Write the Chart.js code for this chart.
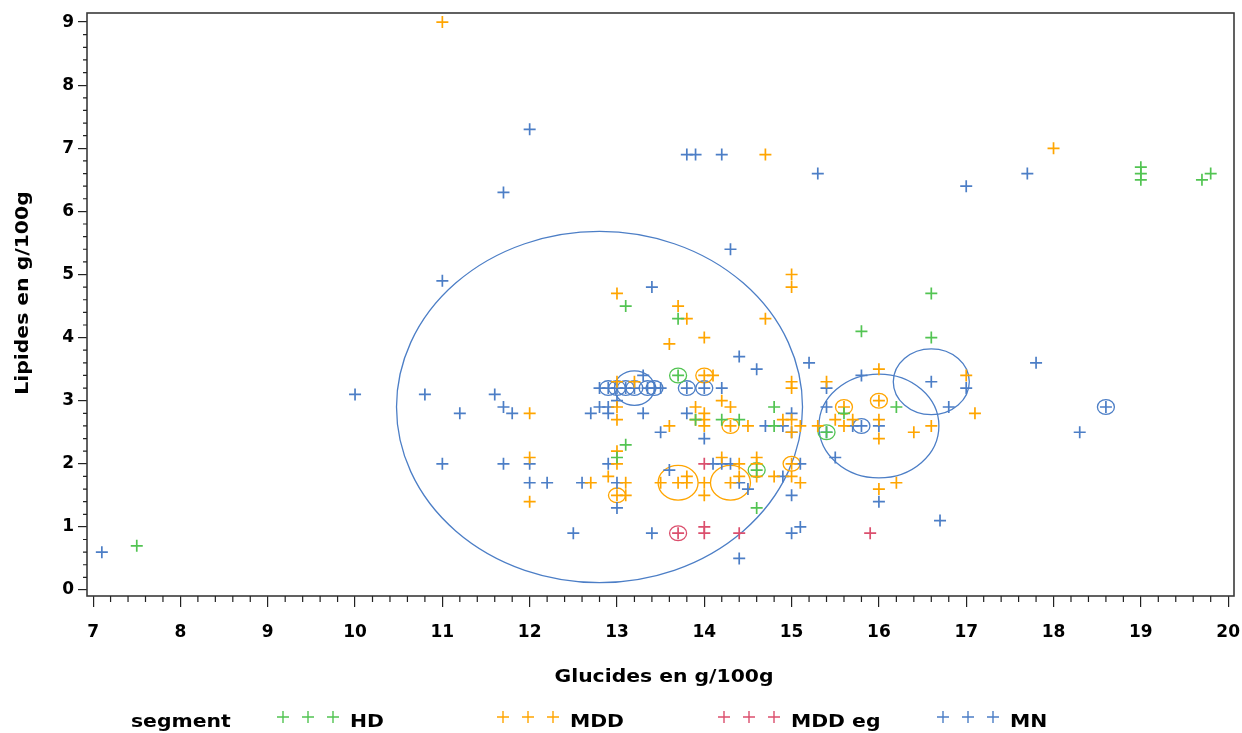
<!DOCTYPE html>
<html><head><meta charset="utf-8">
<script src="https://cdn.jsdelivr.net/npm/chart.js@4.4.0/dist/chart.umd.min.js"></script>
<style>html,body{margin:0;padding:0;background:#fff;}#wrap{width:1242px;height:733px;}</style>
</head><body><div id="wrap"><canvas id="c" width="1242" height="733"></canvas></div>
<script>
// ---- data ----
const xTicks = [7,8,9,10,11,12,13,14,15,16,17,18,19,20];
const yTicks = [0,1,2,3,4,5,6,7,8,9];
const seriesNames = ['HD','MDD','MDD eg','MN'];

const hdX = [7.5,13.1,13.7,13.7,13.9,14.2,14.4,13.1,13.0,14.6,14.6,14.8,14.8,15.4,15.6,15.8,16.2,16.6,16.6,19.0,19.0,19.0,19.7,19.8];
const hdY = [0.7,4.5,4.3,3.4,2.7,2.7,2.7,2.3,2.1,1.9,1.3,2.9,2.6,2.5,2.8,4.1,2.9,4.7,4.0,6.7,6.6,6.5,6.5,6.6];

const mddX = [11.0,12.0,12.0,12.0,12.7,12.9,13.0,13.0,13.2,13.0,13.0,13.0,13.0,13.0,13.1,13.1,13.5,13.6,13.6,13.7,13.8,13.7,13.8,13.8,13.9,13.9,14.0,14.0,14.0,14.0,14.0,14.1,14.0,14.0,14.2,14.3,14.2,14.3,14.3,14.4,14.4,14.5,14.6,14.6,14.6,14.7,14.7,14.8,14.9,15.0,15.0,15.0,15.0,15.0,15.0,15.0,15.0,15.1,15.1,15.3,15.4,15.5,15.6,15.6,15.7,16.0,16.0,16.0,16.0,16.0,16.2,16.4,16.6,17.0,17.1,18.0];
const mddY = [9.0,2.8,2.1,1.4,1.7,1.8,4.7,3.3,3.3,2.9,2.7,2.2,2.0,1.5,1.7,1.5,1.7,2.6,3.9,4.5,4.3,1.7,1.8,1.7,2.9,2.7,2.8,2.7,2.6,4.0,3.4,3.4,1.7,1.5,3.0,2.9,2.1,2.6,1.7,1.8,2.0,2.6,2.1,2.0,1.8,4.3,6.9,1.8,2.7,5.0,4.8,3.3,3.2,2.7,2.5,2.0,1.8,2.6,1.7,2.6,3.3,2.7,2.9,2.6,2.7,3.5,3.0,2.7,2.4,1.6,1.7,2.5,2.6,3.4,2.8,7.0];

const mddegX = [13.7,14.0,14.0,14.0,14.4,15.9];
const mddegY = [0.9,2.0,1.0,0.9,0.9,0.9];

const mnX = [7.1,10.0,10.8,11.0,11.0,11.2,11.6,11.7,11.8,11.7,12.0,11.7,12.0,12.0,12.2,12.5,12.6,12.7,12.8,12.8,12.9,12.9,12.9,12.9,13.0,13.1,13.2,13.35,13.43,13.5,13.0,13.0,13.0,13.3,13.3,13.4,13.4,13.5,13.6,13.8,14.0,14.2,13.8,14.0,13.8,13.9,14.2,14.1,14.2,14.3,14.3,14.4,14.4,14.5,14.4,14.6,14.7,14.9,14.9,15.0,15.0,15.0,15.0,15.1,15.1,15.2,15.3,15.4,15.4,15.4,15.5,15.7,15.8,15.8,16.0,16.0,16.6,16.7,16.8,17.0,17.0,17.7,17.8,18.3,18.6];
const mnY = [0.6,3.1,3.1,4.9,2.0,2.8,3.1,2.9,2.8,6.3,7.3,2.0,2.0,1.7,1.7,0.9,1.7,2.8,2.9,3.2,2.9,2.8,2.0,3.2,3.2,3.2,3.2,3.2,3.2,3.2,3.0,1.7,1.3,3.4,2.8,4.8,0.9,2.5,1.9,3.2,3.2,3.2,2.8,2.4,6.9,6.9,6.9,2.0,2.0,2.0,5.4,3.7,1.7,1.6,0.5,3.5,2.6,2.6,1.8,2.8,2.5,1.5,0.9,1.0,2.0,3.6,6.6,3.2,2.9,2.5,2.1,2.6,2.6,3.4,2.6,1.4,3.3,1.1,2.9,3.2,6.4,6.6,3.6,2.5,2.9];

// bubble rings (size = radius value)
const hdBubX = [13.7,14.6,15.4];
const hdBubY = [3.4,1.9,2.5];
const hdBubS = [8.5,8.5,8.5];
const mddBubX = [13.7,14.3,14.0,14.3,13.0,15.0,15.6,16.0];
const mddBubY = [1.7,1.7,3.4,2.6,1.5,2.0,2.9,3.0];
const mddBubS = [20,20,8.5,8.5,8.5,8.5,8.5,8.5];
const mddegBubX = [13.7];
const mddegBubY = [0.9];
const mddegBubS = [8.5];
const mnBubX = [12.8,13.2,16.0,16.6,12.9,13.0,13.1,13.2,13.35,13.43,13.8,14.0,15.8,18.6];
const mnBubY = [2.9,3.2,2.6,3.3,3.2,3.2,3.2,3.2,3.2,3.2,3.2,3.2,2.6,2.9];
const mnBubS = [203,20,60,38,8.5,8.5,8.5,8.5,8.5,8.5,8.5,8.5,8.5,8.5];

// ---- styles ----
const COL = {HD:'#52c452', MDD:'#ffa500', 'MDD eg':'#db4f6d', MN:'#4c7ec6'};
const FONT = 'DejaVu Sans';
const TXT_SX = 1.13;

const pts = (xs, ys) => xs.map((x,i)=>({x, y: ys[i]}));
const bub = (xs, ys, ss) => xs.map((x,i)=>({x, y: ys[i], r: ss[i]}));

function crossDs(label, xs, ys){
  return {type:'scatter', label, data: pts(xs,ys), pointStyle:'cross', pointRadius:6,
    borderColor: COL[label], backgroundColor: COL[label], borderWidth:1.7, showLine:false};
}
function ringDs(label, xs, ys, ss){
  return {type:'bubble', label: label+' ring', ring:true, data: bub(xs,ys,ss),
    borderColor: COL[label], backgroundColor:'rgba(0,0,0,0)', borderWidth:1.3};
}

const ringPlugin = {
  id:'rings',
  beforeDatasetDraw(chart, args){
    const ds = chart.data.datasets[args.index];
    if(!ds.ring) return;
    const ctx = chart.ctx;
    const a = chart.chartArea;
    ctx.save();
    ctx.beginPath(); ctx.rect(a.left, a.top, a.right-a.left, a.bottom-a.top); ctx.clip();
    ctx.strokeStyle = ds.borderColor; ctx.lineWidth = ds.borderWidth;
    args.meta.data.forEach(el=>{
      const r = el.options.radius;
      ctx.beginPath();
      ctx.ellipse(el.x, el.y, r, r*0.865, 0, 0, Math.PI*2);
      ctx.stroke();
    });
    ctx.restore();
    return false;
  }
};

function drawText(ctx, text, x, y, align, rot){
  ctx.save();
  ctx.translate(x, y);
  if(rot) ctx.rotate(rot);
  ctx.scale(TXT_SX, 1);
  ctx.font = 'bold 18px "'+FONT+'"';
  ctx.fillStyle = '#000';
  ctx.textBaseline = 'alphabetic';
  ctx.textAlign = align;
  ctx.fillText(text, 0, 0);
  ctx.restore();
}

const framePlugin = {
  id:'frame',
  afterDraw(chart){
    const ctx = chart.ctx, a = chart.chartArea;
    const xs = chart.scales.x, ys = chart.scales.y;
    ctx.save();
    ctx.strokeStyle = '#3a3a3a'; ctx.lineWidth = 1.6;
    ctx.strokeRect(a.left, a.top, a.right-a.left, a.bottom-a.top);
    ctx.strokeStyle = '#222'; ctx.lineWidth = 1.2;
    ctx.beginPath();
    for(let i=35;i<=100;i++){
      if(i%5===0) continue;
      const px = xs.getPixelForValue(i/5);
      if(px < a.left || px > a.right) continue;
      ctx.moveTo(px, a.bottom); ctx.lineTo(px, a.bottom+6);
    }
    for(let i=0;i<=45;i++){
      if(i%5===0) continue;
      const py = ys.getPixelForValue(i/5);
      if(py < a.top || py > a.bottom) continue;
      ctx.moveTo(a.left, py); ctx.lineTo(a.left-4, py);
    }
    ctx.stroke();
    ctx.restore();
    drawText(ctx, 'Glucides en g/100g', 664, 682, 'center', 0);
    drawText(ctx, 'Lipides en g/100g', 28, 293, 'center', -Math.PI/2);
    drawText(ctx, 'segment', 131, 727, 'left', 0);
    const starts = [283, 503, 724, 943];
    seriesNames.forEach((n,k)=>{
      const c = COL[n];
      ctx.save();
      ctx.strokeStyle = c; ctx.lineWidth = 1.4;
      ctx.beginPath();
      for(let j=0;j<3;j++){
        const cx = starts[k] + j*25, cy = 717;
        ctx.moveTo(cx-6, cy); ctx.lineTo(cx+6, cy);
        ctx.moveTo(cx, cy-6); ctx.lineTo(cx, cy+6);
      }
      ctx.stroke();
      ctx.restore();
      drawText(ctx, n, starts[k]+67, 727, 'left', 0);
    });
  }
};

new Chart(document.getElementById('c'), {
  type:'scatter',
  data:{datasets:[
    crossDs('HD', hdX, hdY),
    crossDs('MDD eg', mddegX, mddegY),
    crossDs('MDD', mddX, mddY),
    crossDs('MN', mnX, mnY),
    ringDs('HD', hdBubX, hdBubY, hdBubS),
    ringDs('MDD eg', mddegBubX, mddegBubY, mddegBubS),
    ringDs('MDD', mddBubX, mddBubY, mddBubS),
    ringDs('MN', mnBubX, mnBubY, mnBubS)
  ]},
  options:{
    responsive:false, animation:false, devicePixelRatio:1,
    layout:{autoPadding:false, padding:{left:0,right:8,top:13,bottom:0}},
    plugins:{legend:{display:false}, tooltip:{enabled:false}},
    scales:{
      x:{type:'linear', min:6.93, max:20.067,
        afterBuildTicks:s=>{ s.ticks = xTicks.map(v=>({value:v})); },
        afterFit:s=>{ s.height = 137; s.paddingLeft = 0; s.paddingRight = 0; },
        grid:{display:true, drawOnChartArea:false, drawTicks:true, tickLength:11, color:'#222', lineWidth:1.2},
        border:{display:false},
        ticks:{font:{family:FONT, weight:'bold', size:17}, color:'#000', padding:15, maxRotation:0, autoSkip:false}
      },
      y:{type:'linear', min:-0.095, max:9.144,
        afterBuildTicks:s=>{ s.ticks = yTicks.map(v=>({value:v})); },
        afterFit:s=>{ s.width = 87; s.paddingTop = 0; s.paddingBottom = 0; },
        grid:{display:true, drawOnChartArea:false, drawTicks:true, tickLength:9, color:'#222', lineWidth:1.2},
        border:{display:false},
        ticks:{font:{family:FONT, weight:'bold', size:17}, color:'#000', padding:4}
      }
    }
  },
  plugins:[ringPlugin, framePlugin]
});
</script></body></html>
